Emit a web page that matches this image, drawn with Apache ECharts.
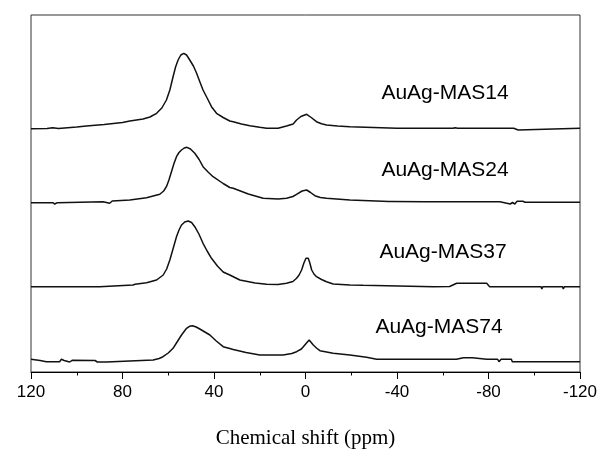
<!DOCTYPE html>
<html>
<head>
<meta charset="utf-8">
<script src="https://cdn.jsdelivr.net/npm/echarts@6/dist/echarts.min.js"></script>
<style>html,body{margin:0;padding:0;background:#fff}#c{width:599px;height:452px}</style>
</head>
<body>
<div id="c"></div>
<script>
// x ticks (ppm), reversed axis
var xMin = -120, xMax = 120, xStep = 40;
var axisTitle = 'Chemical shift (ppm)';
var sampleNames = ['AuAg-MAS14', 'AuAg-MAS24', 'AuAg-MAS37', 'AuAg-MAS74'];

// [chemical shift (ppm), stacked intensity (arbitrary, offset included)]
var mas14 = [[120,243.3],[113,243.5],[110.5,244.3],[108,243.5],[100,245],[95.8,246],[88,247.5],[80,249.5],[76.8,251],[71,253],[68,255],[65.1,258.7],[62.8,264],[60.8,272],[59.3,282],[57.9,295.3],[56.8,305],[55.7,312],[54.5,317],[53.2,318.7],[52,317],[50.6,312],[49,306],[47.6,298.7],[46.2,290.3],[44.8,282],[43,274],[41.1,265.3],[38.9,258.7],[36,254.5],[33.1,251],[31.6,250.3],[28,248],[24.3,246.3],[20,244.7],[17,243.7],[12,243.7],[8.3,246],[5.4,248],[3.9,252],[2,255.5],[-0.5,257.7],[-2.5,254.5],[-4.8,250.3],[-7,248.2],[-9.2,247],[-14,246],[-19.4,245.3],[-20,243.7],[-40,243.7],[-64.5,243.7],[-65.4,244.3],[-66.5,243.7],[-91,243.7],[-91.5,242],[-93,242],[-93.5,243.7],[-120,243.7]];
var mas24 = [[120,169.3],[110.5,169.3],[109.6,168],[108.5,169.3],[88.5,170.3],[85.6,168.7],[84.5,171],[76.8,172],[69.5,174.3],[63.7,177.7],[62,181],[60.8,185.3],[59.7,192],[58.6,200.3],[57.5,208.5],[56.4,215.3],[55.3,219.5],[54.2,222],[53,224],[51.8,224.7],[50.3,223],[48.4,218.7],[46.5,212.5],[44.8,205.3],[42.6,200],[40.4,195.3],[36,188.5],[33.1,184.5],[31.6,183.7],[25,178],[18.5,173.7],[12,173],[8.3,173.7],[5.5,175.5],[3.9,177.7],[1.5,181],[-0.5,182],[-2.2,179.5],[-4.1,176.3],[-6.5,174.5],[-9.2,173.7],[-19.4,172],[-19.8,170.7],[-36.5,170.5],[-37,169],[-37.6,170.5],[-52.5,170.3],[-53,169],[-53.6,170.3],[-79,170.3],[-85,170.3],[-89.5,168],[-90.5,169.5],[-91.5,168],[-92.5,170.7],[-95,170.7],[-96,169.7],[-120,169.7]];
var mas37 = [[120,85.3],[90,85.3],[89.8,86.3],[75.4,87],[74.5,87.7],[69.5,89.3],[65.1,92],[62.2,97],[60.7,103],[59.3,112],[57.8,124],[56.4,135.3],[55.3,142],[54.2,147],[52.8,150],[51.3,151],[49.8,149.5],[48.4,145.3],[46.6,138],[44.8,128.7],[43,121],[41.1,113.7],[38.5,106],[36,100],[33.1,97],[28.7,92],[22,89],[17,87.7],[12,87.5],[8.3,88.7],[5.5,90.5],[3.9,93.7],[2.8,97],[1.7,102],[0.7,109],[-0.2,113.7],[-1.2,113.7],[-1.9,109],[-2.7,102],[-3.7,98],[-4.8,95.3],[-7,92.5],[-9.2,90.3],[-12.1,88],[-19.4,87],[-25.2,86.7],[-26,85.5],[-55.9,85.3],[-63,85.5],[-66.1,88.7],[-79.2,88.7],[-80.5,85.3],[-103,85.3],[-103.3,83],[-103.8,85.3],[-112.4,85.3],[-112.7,83],[-113.2,85.3],[-120,85.3]];
var mas74 = [[120,12.7],[116,11.5],[113.3,10.3],[107.5,10.3],[106.7,12.7],[105.5,11.5],[103.1,10],[102,11.7],[92,11.5],[91,10],[87,10],[86.5,11.7],[66.6,12],[64,13.5],[62.3,15.3],[60,19],[57.9,23.7],[56,30.5],[54.2,37],[52,43.7],[50.7,45.7],[49.4,46.3],[47.8,45],[46.2,43],[44,40],[41.8,37],[39,31],[36,25.3],[33.1,23.5],[31.6,22.5],[26,19.5],[20,17],[9.8,17],[6,18.5],[3.9,20.3],[1.8,23],[0.3,27],[-1.6,32],[-2.5,29.5],[-3.4,27],[-4.8,24],[-6.3,21.3],[-12.1,18.7],[-19.4,17],[-26.7,14.7],[-31.1,12.7],[-66,12.7],[-69,14.3],[-73,14.3],[-79.2,12.7],[-84,12.7],[-84.6,10.3],[-85.5,12.7],[-90,12.7],[-90.4,10.3],[-120,10.3]];

var seriesData = [mas14, mas24, mas37, mas74];

var chart = echarts.init(document.getElementById('c'), null, {renderer: 'canvas'});
var series = seriesData.map(function (d, i) {
  return {
    name: sampleNames[i],
    type: 'line',
    data: d,
    showSymbol: false,
    smooth: false,
    silent: true,
    lineStyle: {color: '#111', width: 1.5}
  };
});
var labelPos = [[445, 93], [445, 170], [443, 252], [439, 327]];
chart.setOption({
  animation: false,
  backgroundColor: '#fff',
  grid: {left: 31, top: 15, width: 549, height: 357, show: true, borderColor: '#333', borderWidth: 1, backgroundColor: 'transparent', containLabel: false, outerBoundsMode: 'none'},
  xAxis: {
    type: 'value', min: xMin, max: xMax, interval: xStep, inverse: true,
    name: axisTitle, nameLocation: 'middle', nameGap: 56,
    nameTextStyle: {fontFamily: 'Liberation Serif', fontSize: 21, color: '#000'},
    axisLine: {show: true, lineStyle: {color: '#000', width: 1}},
    axisTick: {show: true, length: 7, inside: false, lineStyle: {color: '#000'}},
    minorTick: {show: true, splitNumber: 2, length: 3.5, lineStyle: {color: '#000'}},
    axisLabel: {fontFamily: 'Liberation Sans', fontSize: 17, color: '#000', margin: 12},
    splitLine: {show: false}
  },
  yAxis: {type: 'value', min: 0, max: 357, show: false, splitLine: {show: false}},
  graphic: sampleNames.map(function (n, i) {
    return {type: 'text', x: labelPos[i][0], y: labelPos[i][1], style: {text: n, fontFamily: 'Liberation Sans', fontSize: 21, fill: '#000', align: 'center', verticalAlign: 'middle'}};
  }),
  series: series
});
</script>
</body>
</html>
